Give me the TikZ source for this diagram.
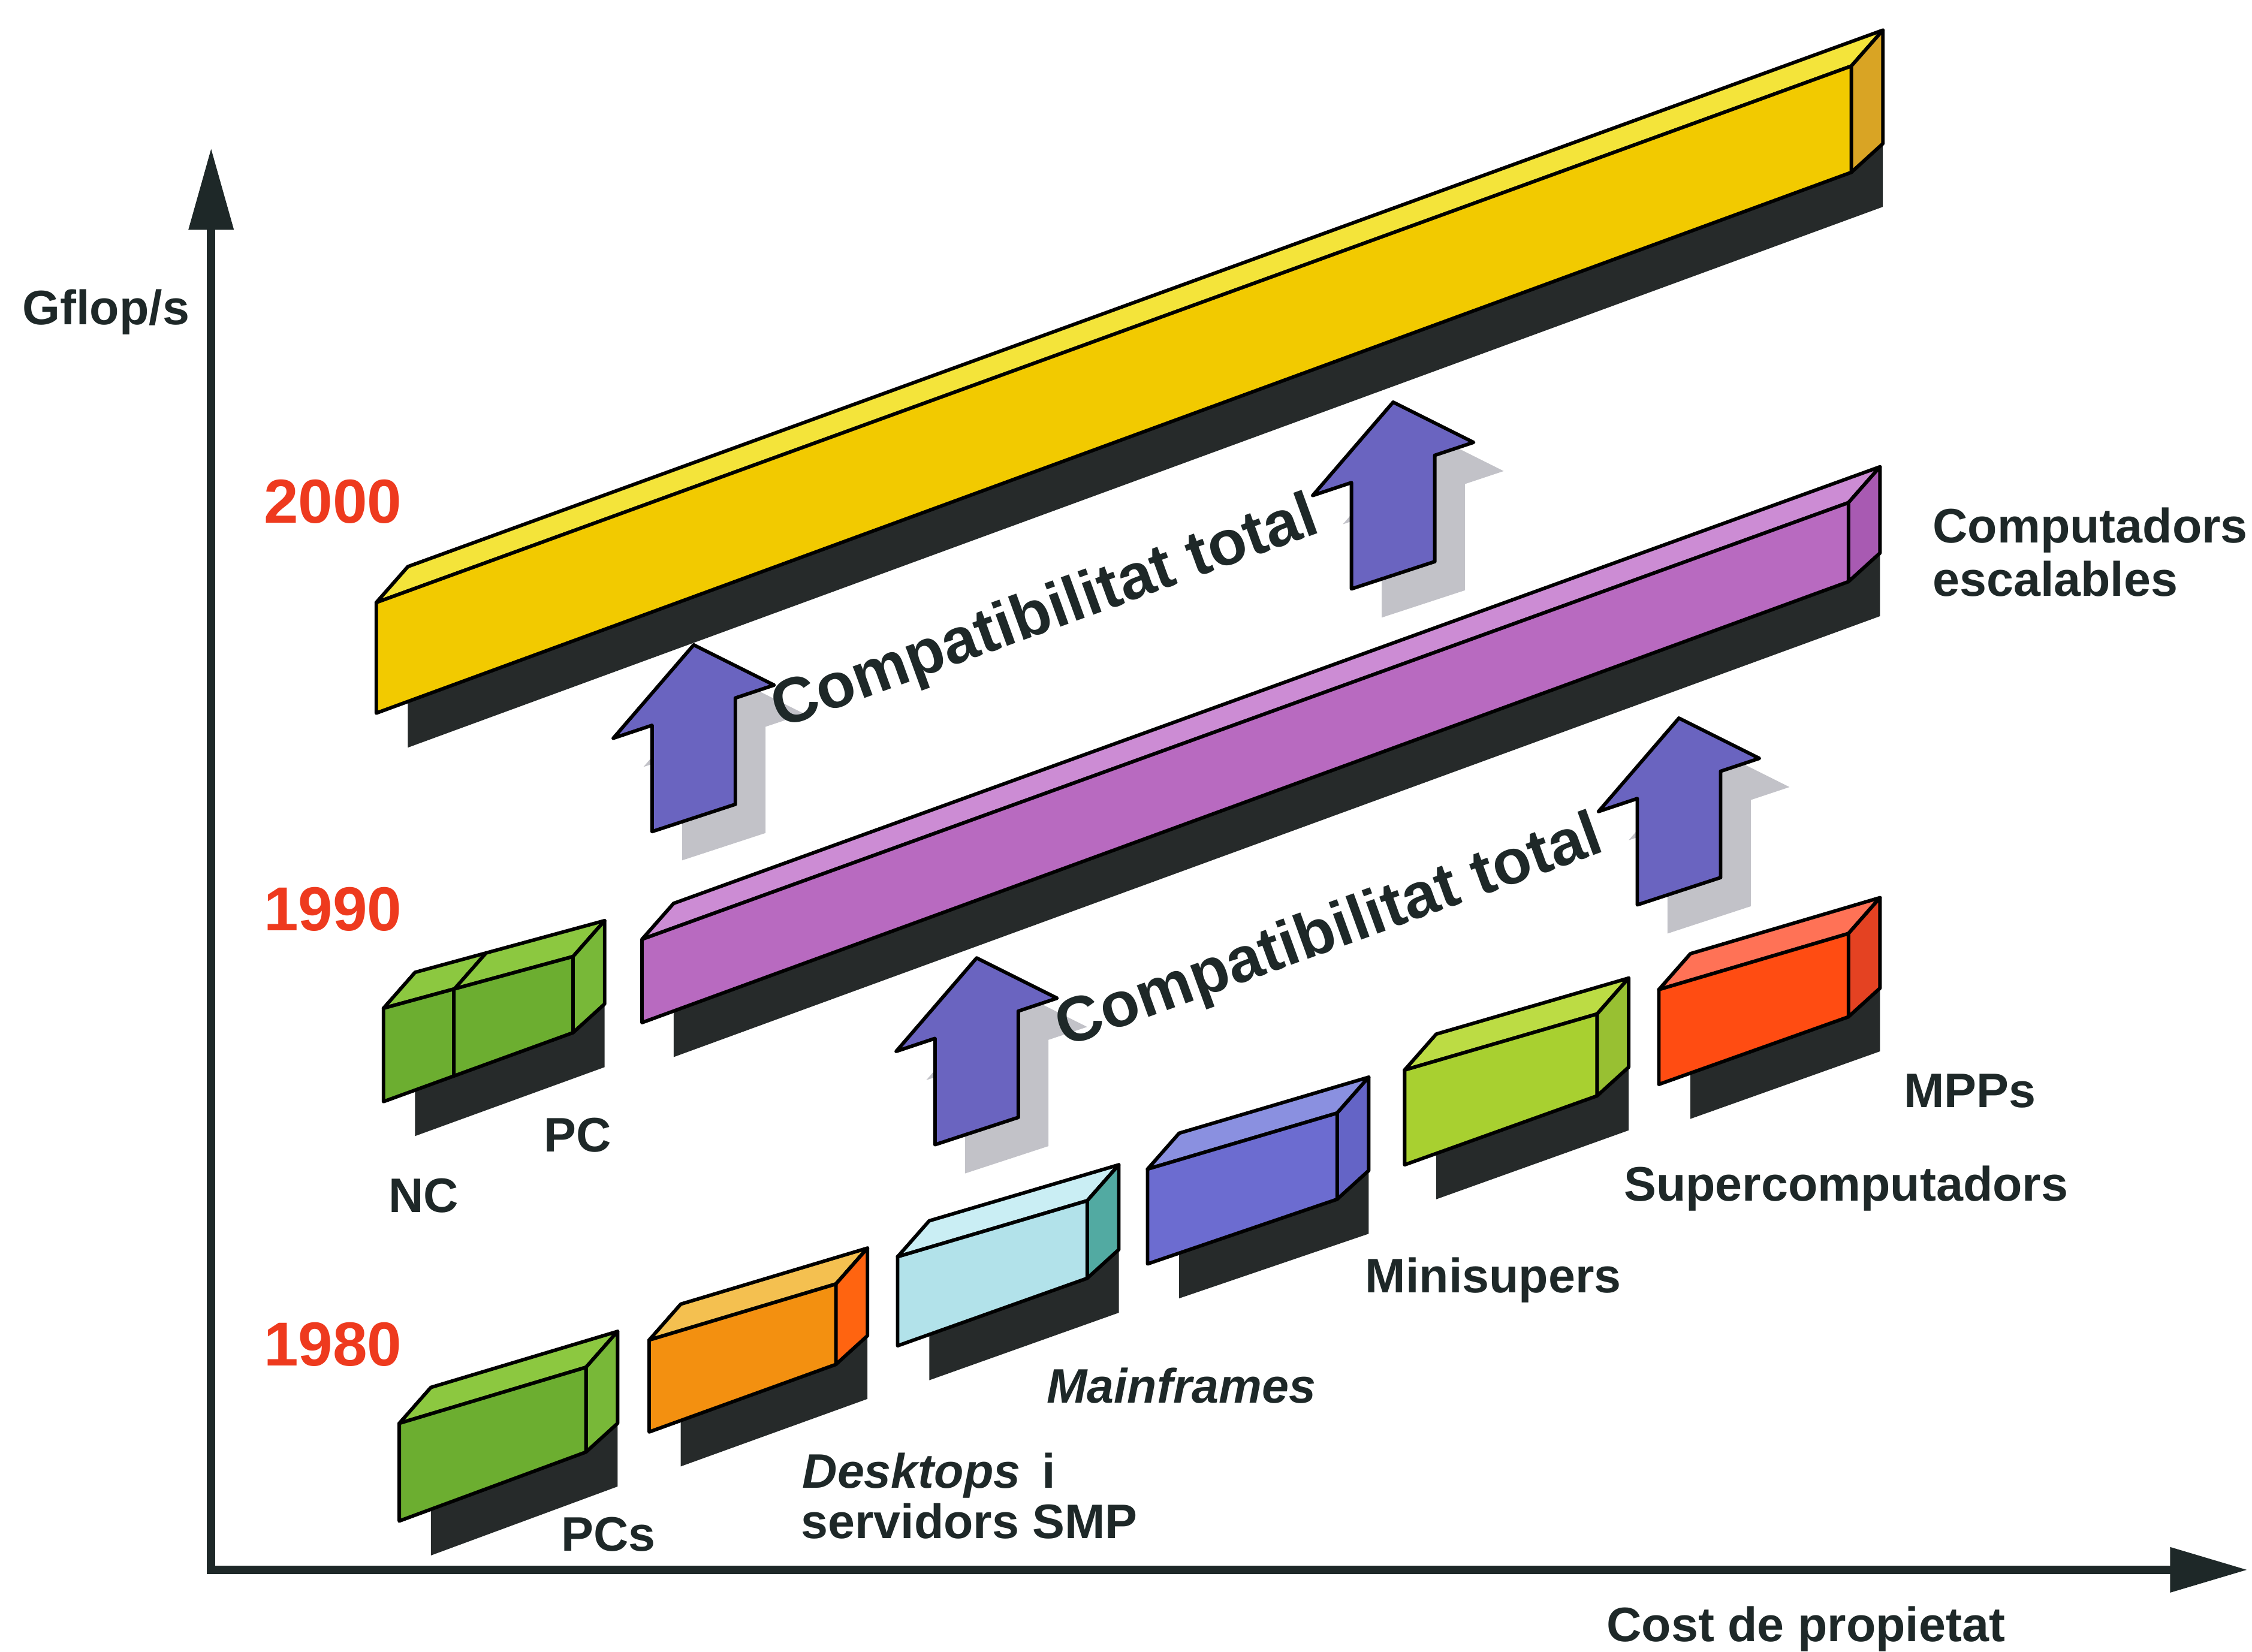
\documentclass[tikz,border=0pt]{standalone}
\usepackage{fontspec}
\setmainfont{Liberation Sans}
\usetikzlibrary{arrows.meta}

\definecolor{tinta}{HTML}{1E2828}
\definecolor{anyvermell}{HTML}{EE3A1E}
\definecolor{negre}{HTML}{262A2A}
\definecolor{groc}{HTML}{F2CA00}
\definecolor{groctop}{HTML}{F4E43A}
\definecolor{grocside}{HTML}{D9A424}
\definecolor{lila}{HTML}{B86AC0}
\definecolor{lilatop}{HTML}{CC8CD4}
\definecolor{lilaside}{HTML}{A85AB2}
\definecolor{verd}{HTML}{6CAE30}
\definecolor{verdtop}{HTML}{8CC840}
\definecolor{verdside}{HTML}{78B838}
\definecolor{taronja}{HTML}{F39010}
\definecolor{taronjatop}{HTML}{F4C050}
\definecolor{taronjaside}{HTML}{FF6410}
\definecolor{cel}{HTML}{B2E2EA}
\definecolor{celtop}{HTML}{CAEEF4}
\definecolor{celside}{HTML}{52AAA2}
\definecolor{blau}{HTML}{6C6CD0}
\definecolor{blautop}{HTML}{8A90E0}
\definecolor{blauside}{HTML}{6464C6}
\definecolor{llima}{HTML}{A8D030}
\definecolor{llimatop}{HTML}{BCDC44}
\definecolor{llimaside}{HTML}{98C032}
\definecolor{roig}{HTML}{FF4C12}
\definecolor{roigtop}{HTML}{FF7256}
\definecolor{roigside}{HTML}{E44222}
\definecolor{fletxablau}{HTML}{6A64C0}
\definecolor{fletxagris}{HTML}{C2C2C8}

\tikzset{
  ombra/.style={fill=negre},
  cara/.style={draw=black, line width=0.7pt, line join=round},
  etiq/.style={font=\fontsize{9.6}{11}\selectfont\bfseries, text=tinta, inner sep=0pt, anchor=base west},
  data/.style={font=\fontsize{12.3}{14}\selectfont\bfseries, text=anyvermell, inner sep=0pt, anchor=base west},
  lema/.style={font=\fontsize{12.6}{14}\selectfont\bfseries, text=tinta, inner sep=0pt, rotate=20},
  eix/.style={draw=tinta, line width=1.7pt},
}

% #1 xL, #2 yTL, #3 yBL, #4 xR, #5 yTR, #6 yBR, #7 front, #8 top, #9 side
\newcommand{\caixa}[9]{%
  \fill[ombra] (#1+22,#2+24) -- (#4+22,#5+24) -- (#4+22,#6+24) -- (#1+22,#3+24) -- cycle;
  \filldraw[cara,fill=#8] (#1,#2) -- (#1+22,#2-25) -- (#4+22,#5-25) -- (#4,#5) -- cycle;
  \filldraw[cara,fill=#9] (#4,#5) -- (#4+22,#5-25) -- (#4+22,#6-20) -- (#4,#6) -- cycle;
  \filldraw[cara,fill=#7] (#1,#2) -- (#4,#5) -- (#4,#6) -- (#1,#3) -- cycle;
}

\begin{document}
\begin{tikzpicture}[x=0.1mm,y=-0.1mm]
\useasboundingbox (0,0) rectangle (1568,1150);

\coordinate (origen) at (147,1093);
\coordinate (ydalt) at (147,103);
\coordinate (xdreta) at (1565,1093);
\draw[eix,{Triangle[length=5.7mm,width=3mm]}-{Triangle[length=5.4mm,width=3mm]}]
  (ydalt) -- (origen) -- (xdreta);

\caixa{262}{419.5}{496.5}{1289}{46}{120}{groc}{groctop}{grocside}
\caixa{447}{654}{712}{1287}{350}{405}{lila}{lilatop}{lilaside}

\caixa{267}{702}{767}{399}{666}{719}{verd}{verdtop}{verdside}
\draw[cara] (316,689) -- (316,749) (316,689) -- (338,664);

\caixa{278}{991}{1059}{408}{952}{1011}{verd}{verdtop}{verdside}
\caixa{452}{933}{997}{582}{894}{950}{taronja}{taronjatop}{taronjaside}
\caixa{625}{875}{937}{757}{836}{890}{cel}{celtop}{celside}
\caixa{799}{814}{880}{931}{775}{835}{blau}{blautop}{blauside}
\caixa{978}{745}{811}{1112}{706}{763}{llima}{llimatop}{llimaside}
\caixa{1155}{689}{755}{1287}{650}{708}{roig}{roigtop}{roigside}

\foreach \x/\y in {454/579, 941/410, 651/797, 1140/630}{
  \fill[fletxagris] (\x+21,\y+20) -- (\x+79,\y+1) -- (\x+79,\y-73) -- (\x+106,\y-82)
    -- (\x+50,\y-110) -- (\x-6,\y-45) -- (\x+21,\y-54) -- cycle;
  \filldraw[cara,fill=fletxablau] (\x,\y) -- (\x+58,\y-19) -- (\x+58,\y-93) -- (\x+85,\y-102)
    -- (\x+29,\y-130) -- (\x-27,\y-65) -- (\x,\y-74) -- cycle;
}

\node[lema] (compat1) at (728,428) {Compatibilitat total};
\node[lema] (compat2) at (926,650) {Compatibilitat total};

\node[etiq] (gflops) at (15,226) {Gflop/s};
\node[data] (any2000) at (183,364) {2000};
\node[data] (any1990) at (183,648) {1990};
\node[data] (any1980) at (183,951) {1980};

\node[etiq] (escal1) at (1345,378) {Computadors};
\node[etiq] (escal2) at (1345,415) {escalables};
\node[etiq] (mpps) at (1325,771) {MPPs};
\node[etiq] (super) at (1130,836) {Supercomputadors};
\node[etiq] (minis) at (950,900) {Minisupers};
\node[etiq] (mainf) at (728,977) {\itshape Mainframes};
\node[etiq] (desk) at (558,1036) {{\itshape Desktops}\hspace{0.45em}i};
\node[etiq] (serv) at (557,1071) {servidors SMP};
\node[etiq] (pcs) at (390,1080) {PCs};
\node[etiq] (pc) at (378,802) {PC};
\node[etiq] (nc) at (270,844) {NC};
\node[etiq] (cost) at (1118,1143) {Cost de propietat};
\end{tikzpicture}
\end{document}
